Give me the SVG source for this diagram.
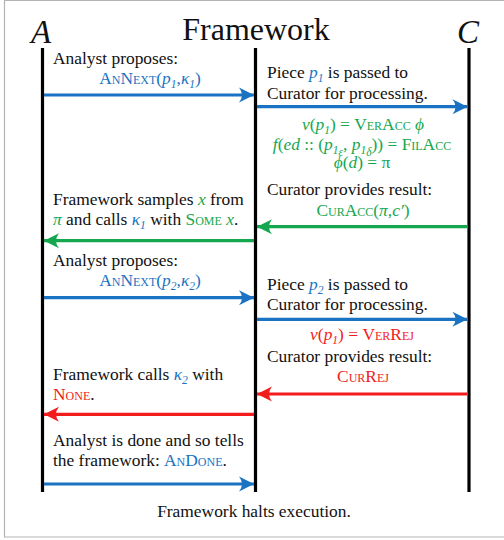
<svg xmlns="http://www.w3.org/2000/svg" width="504" height="540" viewBox="0 0 504 540">
  <style>
    text { font-family: "Liberation Serif", "Times New Roman", serif; font-size: 17.4px; fill: #111; }
    .title { font-size: 32px; }
    .actor { font-size: 33px; font-style: italic; }
    .i { font-style: italic; }
    .sc { font-variant: small-caps; }
    .sub { font-size: 11.5px; font-style: italic; }
    .blue { fill: #1a73c2; }
    .green { fill: #14a74e; }
    .red { fill: #f21c1c; }
    .mid { text-anchor: middle; }
    .life { stroke: #000; stroke-width: 3.2; }
    .msg { stroke-width: 3.2; fill: none; }
  </style>
  <defs>
    <marker id="ah-blue" markerUnits="userSpaceOnUse" viewBox="-16 -8 17 16" refX="0" refY="0" markerWidth="17" markerHeight="16" orient="auto">
      <path d="M0,0 L-15,-7.5 Q-9,0 -15,7.5 Z" fill="#1a73c2"/>
    </marker>
    <marker id="ah-green" markerUnits="userSpaceOnUse" viewBox="-16 -8 17 16" refX="0" refY="0" markerWidth="17" markerHeight="16" orient="auto">
      <path d="M0,0 L-15,-7.5 Q-9,0 -15,7.5 Z" fill="#14a74e"/>
    </marker>
    <marker id="ah-red" markerUnits="userSpaceOnUse" viewBox="-16 -8 17 16" refX="0" refY="0" markerWidth="17" markerHeight="16" orient="auto">
      <path d="M0,0 L-15,-7.5 Q-9,0 -15,7.5 Z" fill="#f21c1c"/>
    </marker>
  </defs>

  <rect width="504" height="540" fill="#fff"/>
  <!-- outer frame (open on the right) -->
  <path d="M504,0.5 H4.5 V537 H504" fill="none" stroke="#b4b4b4" stroke-width="1.2"/>

  <!-- lifelines -->
  <g id="analyst">
    <text class="actor mid" x="41" y="43">A</text>
    <line class="life" x1="42.5" y1="48" x2="42.5" y2="492"/>
  </g>
  <g id="framework">
    <text class="title mid" x="256" y="40">Framework</text>
    <line class="life" x1="255.5" y1="48" x2="255.5" y2="492"/>
  </g>
  <g id="curator">
    <text class="actor mid" x="468" y="43">C</text>
    <line class="life" x1="469" y1="48" x2="469" y2="492"/>
  </g>

  <!-- messages -->
  <g id="connectors">
    <line class="msg" stroke="#1a73c2" x1="44" y1="95" x2="254" y2="95" marker-end="url(#ah-blue)"/>
    <line class="msg" stroke="#1a73c2" x1="257" y1="106.7" x2="467.5" y2="106.7" marker-end="url(#ah-blue)"/>
    <line class="msg" stroke="#14a74e" x1="467.5" y1="226.7" x2="257" y2="226.7" marker-end="url(#ah-green)"/>
    <line class="msg" stroke="#14a74e" x1="254" y1="240.7" x2="44" y2="240.7" marker-end="url(#ah-green)"/>
    <line class="msg" stroke="#1a73c2" x1="44" y1="297.7" x2="254" y2="297.7" marker-end="url(#ah-blue)"/>
    <line class="msg" stroke="#1a73c2" x1="257" y1="319.3" x2="467.5" y2="319.3" marker-end="url(#ah-blue)"/>
    <line class="msg" stroke="#f21c1c" x1="467.5" y1="394" x2="257" y2="394" marker-end="url(#ah-red)"/>
    <line class="msg" stroke="#f21c1c" x1="254" y1="414.3" x2="44" y2="414.3" marker-end="url(#ah-red)"/>
    <line class="msg" stroke="#1a73c2" x1="44" y1="484" x2="254" y2="484" marker-end="url(#ah-blue)"/>
  </g>

  <!-- step 1: analyst proposes p1 -->
  <g id="label-propose-1">
    <text x="53" y="63.5">Analyst proposes:</text>
    <text class="blue mid" x="150" y="83.5"><tspan class="sc">AnNext</tspan>(<tspan class="i">p</tspan><tspan class="sub" dy="4">1</tspan><tspan dy="-4">,</tspan><tspan class="i">κ</tspan><tspan class="sub" dy="4">1</tspan><tspan dy="-4">)</tspan></text>
  </g>

  <!-- step 2: piece p1 to curator -->
  <g id="label-pass-1">
    <text x="267" y="77.5">Piece <tspan class="i blue">p</tspan><tspan class="sub blue" dy="4">1</tspan><tspan dy="-4"> is passed to</tspan></text>
    <text x="267" y="98.5">Curator for processing.</text>
  </g>

  <!-- curator verification, accepted: three centred formula lines in one text block -->
  <g id="label-accept">
    <text class="green mid"><tspan x="363" y="130"><tspan class="i">v</tspan>(<tspan class="i">p</tspan></tspan><tspan class="sub" dy="4">1</tspan><tspan dy="-4">) = </tspan><tspan class="sc">VerAcc</tspan> <tspan class="i">ϕ</tspan><tspan x="362" y="150"><tspan class="i">f</tspan>(<tspan class="i">ed</tspan> :: (<tspan class="i">p</tspan></tspan><tspan class="sub" dy="4">1</tspan><tspan class="sub" font-size="9" dy="2">ε</tspan><tspan dy="-6">, </tspan><tspan class="i">p</tspan><tspan class="sub" dy="4">1</tspan><tspan class="sub" font-size="9" dy="2">δ</tspan><tspan dy="-6">)) = </tspan><tspan class="sc">FilAcc</tspan><tspan x="362" y="168"><tspan class="i">ϕ</tspan>(<tspan class="i">d</tspan>) = π</tspan></text>
    <text x="267" y="194.5">Curator provides result:</text>
    <text class="green mid" x="363" y="216"><tspan class="sc">CurAcc</tspan>(<tspan class="i">π</tspan>,<tspan class="i">c′</tspan>)</text>
  </g>

  <!-- framework samples and calls continuation -->
  <g id="label-sample">
    <text x="53" y="205">Framework samples <tspan class="i green">x</tspan> from</text>
    <text x="53" y="225"><tspan class="i green">π</tspan> and calls <tspan class="i blue">κ</tspan><tspan class="sub blue" dy="4">1</tspan><tspan dy="-4"> with </tspan><tspan class="sc green">Some</tspan> <tspan class="i green">x</tspan>.</text>
  </g>

  <!-- step 3: analyst proposes p2 -->
  <g id="label-propose-2">
    <text x="53" y="265.5">Analyst proposes:</text>
    <text class="blue mid" x="150" y="286"><tspan class="sc">AnNext</tspan>(<tspan class="i">p</tspan><tspan class="sub" dy="4">2</tspan><tspan dy="-4">,</tspan><tspan class="i">κ</tspan><tspan class="sub" dy="4">2</tspan><tspan dy="-4">)</tspan></text>
  </g>

  <!-- step 4: piece p2 to curator -->
  <g id="label-pass-2">
    <text x="267" y="289.5">Piece <tspan class="i blue">p</tspan><tspan class="sub blue" dy="4">2</tspan><tspan dy="-4"> is passed to</tspan></text>
    <text x="267" y="310">Curator for processing.</text>
  </g>

  <!-- curator verification, rejected -->
  <g id="label-reject">
    <text class="red mid" x="362" y="340"><tspan class="i">v</tspan>(<tspan class="i">p</tspan><tspan class="sub" dy="4">1</tspan><tspan dy="-4">) = </tspan><tspan class="sc">VerRej</tspan></text>
    <text x="267" y="361.5">Curator provides result:</text>
    <text class="red mid" x="363" y="382"><tspan class="sc">CurRej</tspan></text>
  </g>

  <!-- framework calls continuation with None -->
  <g id="label-none">
    <text x="53" y="379.5">Framework calls <tspan class="i blue">κ</tspan><tspan class="sub blue" dy="4">2</tspan><tspan dy="-4"> with</tspan></text>
    <text x="53" y="400"><tspan class="sc red">None</tspan>.</text>
  </g>

  <!-- analyst done -->
  <g id="label-done">
    <text x="53" y="445.5">Analyst is done and so tells</text>
    <text x="53" y="466">the framework: <tspan class="sc blue">AnDone</tspan>.</text>
  </g>

  <text class="mid" x="254" y="516.5" font-size="16">Framework halts execution.</text>
</svg>
